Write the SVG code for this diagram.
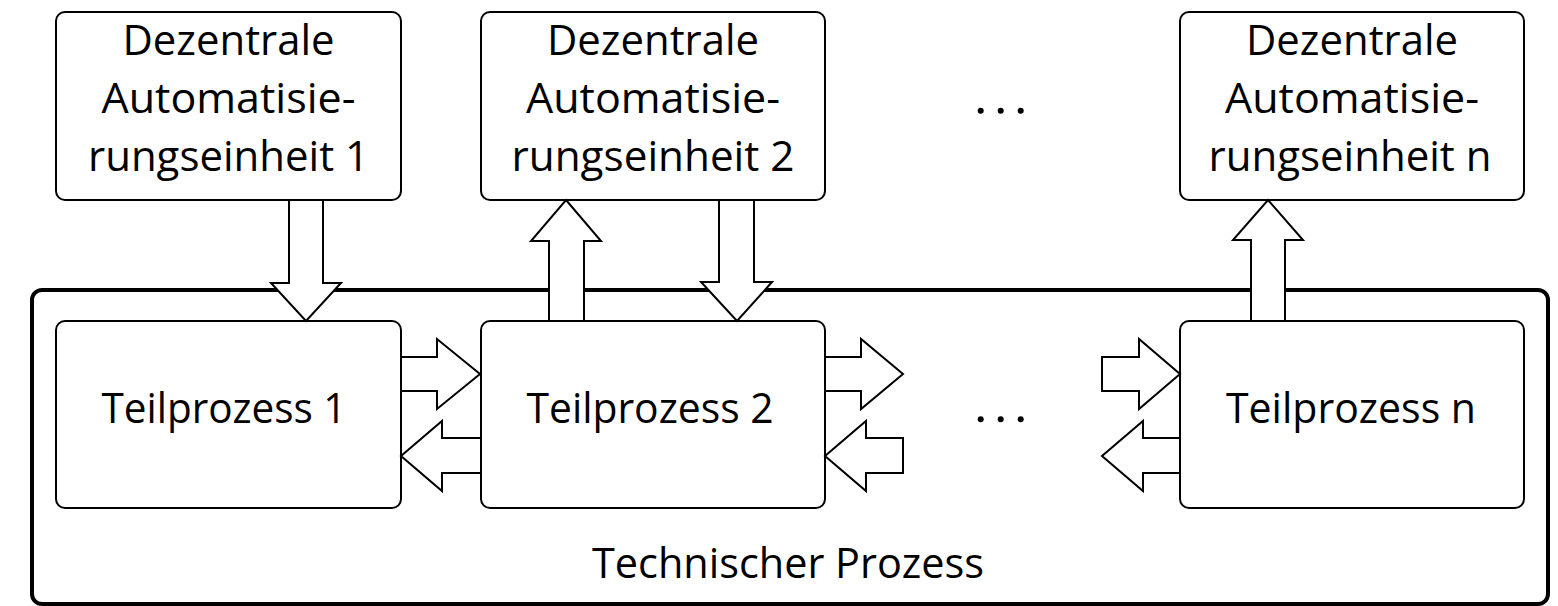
<svg xmlns="http://www.w3.org/2000/svg" width="1558" height="606" viewBox="0 0 1558 606">
<style>
  .box { fill: #ffffff; stroke: #000000; stroke-width: 2; }
  .outer { fill: #ffffff; stroke: #000000; stroke-width: 4; }
  .arrow { fill: #ffffff; stroke: #000000; stroke-width: 2; stroke-linejoin: miter; }
  .lbl { font-family: "Open Sans", "Noto Sans", sans-serif; font-size: 42px; fill: #000000; text-anchor: middle; }
  .dot { fill: #000000; }
</style>
<rect width="1558" height="606" fill="#ffffff"/>
<g id="technischer-prozess">
  <rect class="outer" x="32" y="290" width="1516" height="314" rx="10" ry="10"/>
  <text class="lbl" x="788" y="578" textLength="392" lengthAdjust="spacingAndGlyphs">Technischer Prozess</text>
</g>
<g id="automatisierungseinheit-1">
  <rect class="box" x="56" y="12" width="345" height="188" rx="9" ry="9"/>
  <text class="lbl" x="228.5" y="55" textLength="212" lengthAdjust="spacingAndGlyphs">Dezentrale</text>
  <text class="lbl" x="228.5" y="112.5" textLength="254" lengthAdjust="spacingAndGlyphs">Automatisie-</text>
  <text class="lbl" x="228.5" y="170.5" textLength="281" lengthAdjust="spacingAndGlyphs">rungseinheit 1</text>
</g>
<g id="automatisierungseinheit-2">
  <rect class="box" x="481" y="12" width="344" height="188" rx="9" ry="9"/>
  <text class="lbl" x="653" y="55" textLength="212" lengthAdjust="spacingAndGlyphs">Dezentrale</text>
  <text class="lbl" x="653" y="112.5" textLength="254" lengthAdjust="spacingAndGlyphs">Automatisie-</text>
  <text class="lbl" x="653" y="170.5" textLength="283" lengthAdjust="spacingAndGlyphs">rungseinheit 2</text>
</g>
<g id="dots-top">
  <circle class="dot" cx="980.7" cy="110.7" r="3"/>
  <circle class="dot" cx="1000.7" cy="110.7" r="3"/>
  <circle class="dot" cx="1020.7" cy="110.7" r="3"/>
</g>
<g id="automatisierungseinheit-n">
  <rect class="box" x="1180" y="12" width="344" height="188" rx="9" ry="9"/>
  <text class="lbl" x="1352" y="55" textLength="212" lengthAdjust="spacingAndGlyphs">Dezentrale</text>
  <text class="lbl" x="1352" y="112.5" textLength="254" lengthAdjust="spacingAndGlyphs">Automatisie-</text>
  <text class="lbl" x="1350" y="170.5" textLength="283" lengthAdjust="spacingAndGlyphs">rungseinheit n</text>
</g>
<g id="teilprozess-1">
  <rect class="box" x="56" y="321" width="345" height="187" rx="9" ry="9"/>
  <text class="lbl" x="224" y="423" textLength="245" lengthAdjust="spacingAndGlyphs">Teilprozess 1</text>
</g>
<g id="teilprozess-2">
  <rect class="box" x="481" y="321" width="344" height="187" rx="9" ry="9"/>
  <text class="lbl" x="650" y="423" textLength="247" lengthAdjust="spacingAndGlyphs">Teilprozess 2</text>
</g>
<g id="dots-bottom">
  <circle class="dot" cx="980.7" cy="419.3" r="3"/>
  <circle class="dot" cx="1000.7" cy="419.3" r="3"/>
  <circle class="dot" cx="1020.7" cy="419.3" r="3"/>
</g>
<g id="teilprozess-n">
  <rect class="box" x="1180" y="321" width="344" height="187" rx="9" ry="9"/>
  <text class="lbl" x="1351" y="423" textLength="250" lengthAdjust="spacingAndGlyphs">Teilprozess n</text>
</g>
<g id="connectors">
  <polygon class="arrow" points="289,200 323,200 323,283 341,283 306,321 271,283 289,283"/>
  <polygon class="arrow" points="566,200 601,241 584,241 584,321 549,321 549,241 531,241"/>
  <polygon class="arrow" points="719,200 754,200 754,282 772,282 737,321 701,282 719,282"/>
  <polygon class="arrow" points="1268,200 1303,240 1285,240 1285,321 1251,321 1251,240 1233,240"/>
  <polygon class="arrow" points="401,357 437,357 437,339 480,374 437,409 437,391 401,391"/>
  <polygon class="arrow" points="481,438 442,438 442,421 401,456 442,491 442,473 481,473"/>
  <polygon class="arrow" points="825,357 861,357 861,339 903,374 861,409 861,391 825,391"/>
  <polygon class="arrow" points="903,438 866,438 866,421 825,456 866,491 866,473 903,473"/>
  <polygon class="arrow" points="1102,357 1139,357 1139,339 1180,374 1139,409 1139,391 1102,391"/>
  <polygon class="arrow" points="1180,438 1143,438 1143,421 1102,456 1143,491 1143,473 1180,473"/>
</g>
</svg>
